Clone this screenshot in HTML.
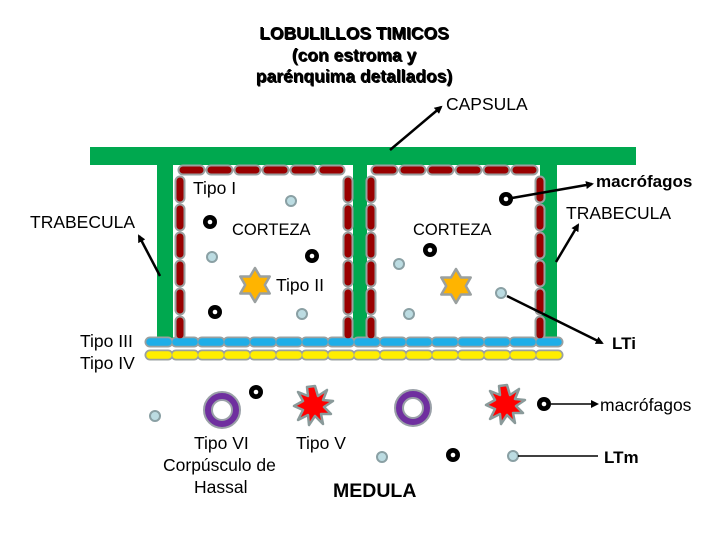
<!DOCTYPE html>
<html><head><meta charset="utf-8"><style>
body{margin:0;background:#fff}
svg{display:block}
text{font-family:"Liberation Sans",sans-serif;fill:#000}
</style></head><body>
<svg width="720" height="540" viewBox="0 0 720 540" xmlns="http://www.w3.org/2000/svg">
<defs>
<marker id="ah" markerWidth="8" markerHeight="8" refX="6" refY="4" orient="auto" markerUnits="userSpaceOnUse">
<path d="M0,0 L8,4 L0,8 z" fill="#000"/></marker>
<g id="donut"><circle r="7" fill="#000"/><circle r="2.3" fill="#fff"/></g>
<g id="lc"><circle r="5" fill="#bcdce2" stroke="#8aa0a4" stroke-width="2"/></g>
<g id="star"><polygon points="0,-17 5,-8.5 14.7,-8.5 9.8,0 14.7,8.5 5,8.5 0,17 -5,8.5 -14.7,8.5 -9.8,0 -14.7,-8.5 -5,-8.5" fill="#ffb400" stroke="#9aa0a0" stroke-width="2.5" stroke-linejoin="round"/></g>
<g id="ring"><circle r="14" fill="none" stroke="#9aa0a8" stroke-width="10"/><circle r="14" fill="none" stroke="#6f2f9f" stroke-width="6"/></g>
<g id="burst"><polygon points="2,-20 5,-10 14,-16 10,-6 20,-5 11,1 18,8 8,8 10,18 2,10 -4,19 -5,9 -15,14 -10,4 -19,0 -10,-5 -15,-14 -5,-10 -6,-19" fill="#ff0000" stroke="#8a9a9a" stroke-width="2.5" stroke-linejoin="round"/></g>
</defs>

<rect x="90" y="147" width="546" height="18" fill="#00a84f"/>
<rect x="157" y="147" width="16" height="193" fill="#00a84f"/>
<rect x="353" y="147" width="14" height="193" fill="#00a84f"/>
<rect x="540" y="147" width="17" height="193" fill="#00a84f"/>

<g stroke-linecap="round" fill="none">
<g stroke="#9aa0a0" stroke-width="11" stroke-dasharray="17 11">
<line x1="183" y1="170" x2="348" y2="170"/>
<line x1="376" y1="170" x2="540" y2="170"/>
<line x1="180" y1="181" x2="180" y2="335"/>
<line x1="348" y1="181" x2="348" y2="335"/>
<line x1="371" y1="181" x2="371" y2="335"/>
<line x1="540" y1="181" x2="540" y2="335"/>
<line x1="150" y1="342" x2="560" y2="342" stroke-dasharray="18 8"/>
<line x1="150" y1="355" x2="560" y2="355" stroke-dasharray="18 8"/>
</g>
<g stroke="#990000" stroke-width="7" stroke-dasharray="17 11">
<line x1="183" y1="170" x2="348" y2="170"/>
<line x1="376" y1="170" x2="540" y2="170"/>
<line x1="180" y1="181" x2="180" y2="335"/>
<line x1="348" y1="181" x2="348" y2="335"/>
<line x1="371" y1="181" x2="371" y2="335"/>
<line x1="540" y1="181" x2="540" y2="335"/>
</g>
<line x1="150" y1="342" x2="560" y2="342" stroke="#1eaee8" stroke-width="7.5" stroke-dasharray="18 8"/>
<line x1="150" y1="355" x2="560" y2="355" stroke="#ffee00" stroke-width="7.5" stroke-dasharray="18 8"/>
</g>

<use href="#donut" x="210" y="222"/><use href="#donut" x="312" y="256"/><use href="#donut" x="215" y="312"/>
<use href="#donut" x="506" y="199"/><use href="#donut" x="430" y="250"/><use href="#donut" x="256" y="392"/>
<use href="#donut" x="544" y="404"/><use href="#donut" x="453" y="455"/>
<use href="#lc" x="291" y="201"/><use href="#lc" x="212" y="257"/><use href="#lc" x="302" y="314"/>
<use href="#lc" x="399" y="264"/><use href="#lc" x="409" y="314"/><use href="#lc" x="501" y="293"/>
<use href="#lc" x="155" y="416"/><use href="#lc" x="382" y="457"/><use href="#lc" x="513" y="456"/>
<use href="#star" x="255" y="285"/><use href="#star" x="456" y="286"/>
<use href="#ring" x="222" y="410"/><use href="#ring" x="413" y="408"/>
<use href="#burst" x="313" y="406"/><use href="#burst" x="505" y="405"/>

<g stroke="#000" stroke-width="2.5" marker-end="url(#ah)">
<line x1="390" y1="150" x2="441" y2="107"/>
<line x1="512" y1="198" x2="592" y2="184"/>
<line x1="556" y1="262" x2="578" y2="225"/>
<line x1="160" y1="276" x2="139" y2="236"/>
<line x1="507" y1="296" x2="602" y2="343"/>
<line x1="551" y1="404" x2="597" y2="404" stroke-width="1.5"/>
</g>
<line x1="518" y1="456" x2="598" y2="456" stroke="#000" stroke-width="1.5"/>

<g font-weight="bold" font-size="17.5" text-anchor="middle">
<text x="355" y="40" fill="#aaa">LOBULILLOS TIMICOS</text>
<text x="355" y="62" fill="#aaa">(con estroma y</text>
<text x="355" y="83" fill="#aaa">parénquima detallados)</text>
<text x="354" y="39">LOBULILLOS TIMICOS</text>
<text x="354" y="61">(con estroma y</text>
<text x="354" y="82">parénquima detallados)</text>
</g>

<g font-size="17.5">
<text x="446" y="110">CAPSULA</text>
<text x="566" y="219">TRABECULA</text>
<text x="30" y="228">TRABECULA</text>
<text x="193" y="194">Tipo I</text>
<text x="232" y="235" font-size="16.5">CORTEZA</text>
<text x="413" y="235" font-size="16.5">CORTEZA</text>
<text x="276" y="291">Tipo II</text>
<text x="80" y="347">Tipo III</text>
<text x="80" y="369">Tipo IV</text>
<text x="600" y="411">macrófagos</text>
<text x="194" y="449">Tipo VI</text>
<text x="163" y="471">Corpúsculo de</text>
<text x="194" y="493">Hassal</text>
<text x="296" y="449">Tipo V</text>
</g>
<g font-size="17" font-weight="bold">
<text x="596" y="187">macrófagos</text>
<text x="612" y="349">LTi</text>
<text x="604" y="463">LTm</text>
<text x="333" y="497" font-size="19.5">MEDULA</text>
</g>
</svg>
</body></html>
